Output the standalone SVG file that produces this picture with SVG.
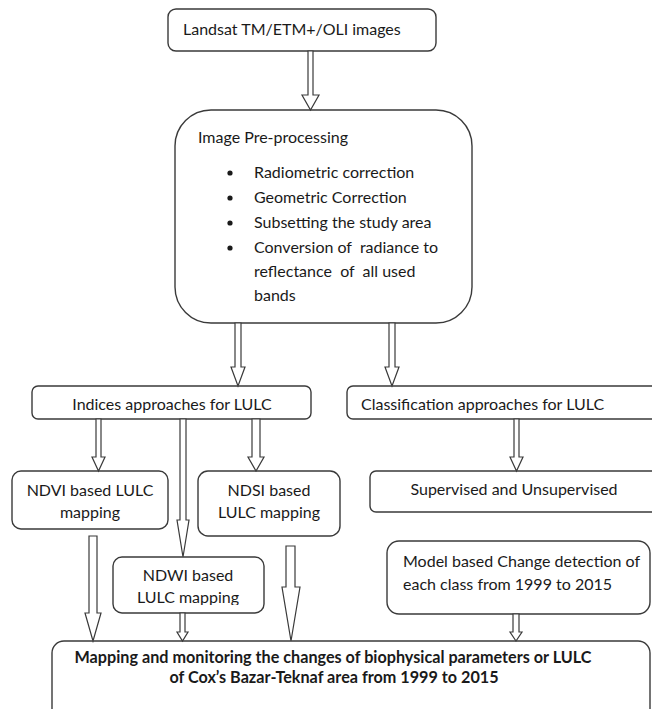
<svg xmlns="http://www.w3.org/2000/svg" width="652" height="709" viewBox="0 0 652 709">
<style>
.box{fill:#fff;stroke:#3a3a3a;stroke-width:1.4}
.arr{fill:#fff;stroke:#3a3a3a;stroke-width:1.2;stroke-linejoin:miter}
text{font-family:Lato,"Liberation Sans",sans-serif;font-size:16px;fill:#1a1a1a;white-space:pre}
.c{text-anchor:middle}
.b{font-weight:bold;font-size:16.2px}
</style>
<defs>
<clipPath id="ndwiclip"><rect x="113" y="557" width="151" height="48"/></clipPath>
</defs>
<rect width="652" height="709" fill="#fff"/>
<g id="landsat">
<rect class="box" x="168" y="9" width="268" height="42" rx="8"/>
<text x="183" y="35">Landsat TM/ETM+/OLI images</text>
</g>
<g id="preprocessing">
<rect class="box" x="175" y="110" width="297" height="213" rx="36"/>
<text x="198" y="143">Image Pre-processing</text>
<g fill="#1a1a1a"><circle cx="230" cy="173" r="2.6"/><circle cx="230" cy="198" r="2.6"/><circle cx="230" cy="223" r="2.6"/><circle cx="230" cy="248" r="2.6"/></g>
<text x="254" y="178">Radiometric correction</text>
<text x="254" y="203">Geometric Correction</text>
<text x="254" y="228">Subsetting the study area</text>
<text x="254" y="253">Conversion of  radiance to</text>
<text x="254" y="277">reflectance  of  all used</text>
<text x="254" y="301">bands</text>
</g>
<g id="indices">
<rect class="box" x="32" y="386" width="279" height="33" rx="6"/>
<text class="c" x="172" y="410">Indices approaches for LULC</text>
</g>
<g id="classification">
<rect class="box" x="347" y="386" width="320" height="33" rx="6"/>
<text x="361" y="410">Classification approaches for LULC</text>
</g>
<g id="ndvi">
<rect class="box" x="12" y="471" width="156" height="58" rx="9"/>
<text class="c" x="90" y="496">NDVI based LULC</text>
<text class="c" x="90" y="518">mapping</text>
</g>
<g id="ndsi">
<rect class="box" x="198" y="471" width="142" height="65" rx="10"/>
<text class="c" x="269" y="496">NDSI based</text>
<text class="c" x="269" y="518">LULC mapping</text>
</g>
<g id="supervised">
<rect class="box" x="370" y="471" width="300" height="41" rx="6"/>
<text class="c" x="514" y="495">Supervised and Unsupervised</text>
</g>
<g id="ndwi">
<rect class="box" x="113" y="557" width="151" height="56" rx="9"/>
<text class="c" x="188" y="581">NDWI based</text>
<text class="c" x="188" y="603" clip-path="url(#ndwiclip)">LULC mapping</text>
</g>
<g id="model">
<rect class="box" x="387" y="541" width="263" height="73" rx="12"/>
<text x="403" y="567">Model based Change detection of</text>
<text x="403" y="590">each class from 1999 to 2015</text>
</g>
<g id="result">
<rect class="box" x="52" y="641" width="598" height="80" rx="12"/>
<text class="c b" x="333" y="663">Mapping and monitoring the changes of biophysical parameters or LULC</text>
<text class="c b" x="334" y="683">of Cox’s Bazar-Teknaf area from 1999 to 2015</text>
</g>
<g id="connectors">
<path class="arr" d="M308 51 L313 51 L313 95 L319 95 L310.5 110 L302 95 L308 95 Z"/>
<path class="arr" d="M235 323 L241 323 L241 367 L245 367 L238 386 L231 367 L235 367 Z"/>
<path class="arr" d="M389 323 L395 323 L395 367 L399 367 L392 386 L385 367 L389 367 Z"/>
<path class="arr" d="M96 419 L101 419 L101 457 L105 457 L98.5 471 L92 457 L96 457 Z"/>
<path class="arr" d="M180 419 L186 419 L186 520 L189 520 L183 557 L177 520 L180 520 Z"/>
<path class="arr" d="M252 419 L260 419 L260 457 L264 457 L256 471 L248 457 L252 457 Z"/>
<path class="arr" d="M514 419 L519 419 L519 457 L523 457 L516.5 471 L510 457 L514 457 Z"/>
<path class="arr" d="M89 536 L97 536 L97 613 L101 613 L93 641 L85 613 L89 613 Z"/>
<path class="arr" d="M180 613 L185 613 L185 632 L188 632 L182.5 641 L177 632 L180 632 Z"/>
<path class="arr" d="M286 546 L295 546 L295 587 L300 587 L291 641 L282 587 L286 587 Z"/>
<path class="arr" d="M513 614 L519 614 L519 632 L522 632 L516 641 L510 632 L513 632 Z"/>
</g>
</svg>
